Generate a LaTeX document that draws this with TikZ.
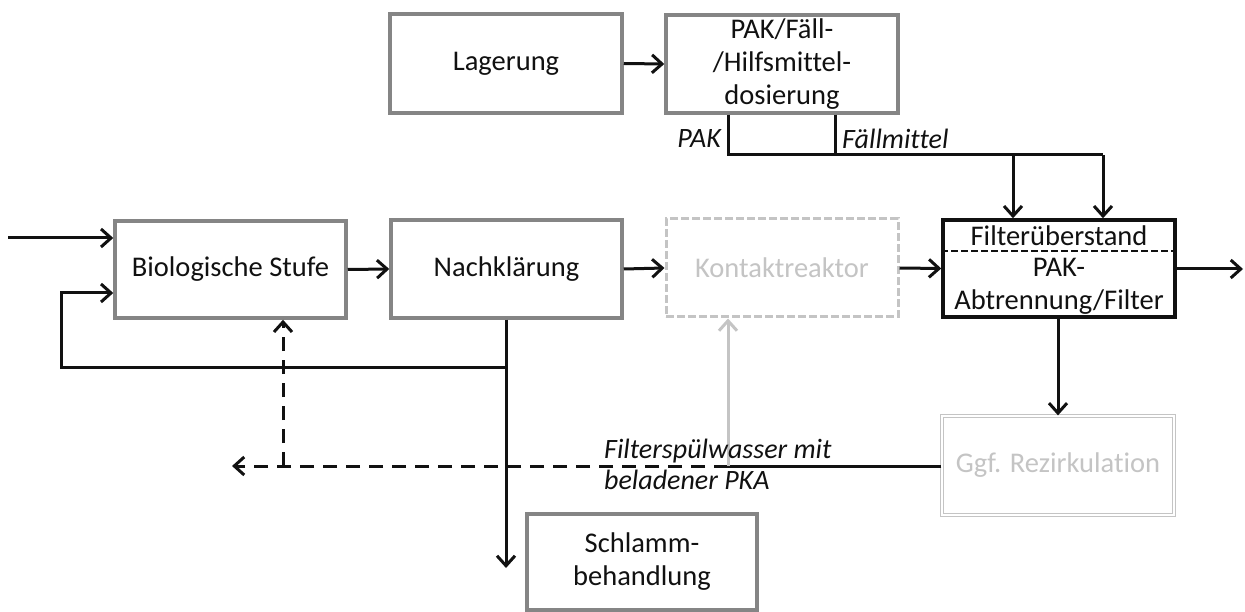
\documentclass[tikz,border=0pt]{standalone}
\usepackage{fontspec}
\setmainfont{Carlito}[Ligatures=NoCommon]
\usetikzlibrary{arrows.meta}
\definecolor{boxgray}{HTML}{858585}
\definecolor{lightg}{HTML}{C4C4C4}
\definecolor{ink}{HTML}{111111}
\tikzset{
  box/.style={draw=boxgray, line width=3.5pt, fill=white, align=center, text=ink, inner sep=0pt},
  arr/.style={line width=3pt, draw=ink, -{Straight Barb[length=10pt,width=18pt,line width=3pt]}},
  ln/.style={line width=3pt, draw=ink},
  dsh/.style={dash pattern=on 14pt off 9pt},
  lbl/.style={font=\fontsize{28}{31}\selectfont\itshape, text=ink, inner sep=0pt, align=left},
}
\begin{document}
\begin{tikzpicture}[x=1pt,y=-1pt,font=\fontsize{28.5}{33}\selectfont]
\useasboundingbox (0,0) rectangle (1245,612);
% boxes
\node[box, minimum width=232pt, minimum height=99pt] (lag) at (506,63.5) {Lagerung};
\node[box, minimum width=232pt, minimum height=98pt] (dos) at (782,64) {PAK/Fäll-\\/Hilfsmittel-\\dosierung};
\node[box, minimum width=231pt, minimum height=97pt] (bio) at (230.5,269.5) {Biologische Stufe};
\node[box, minimum width=231pt, minimum height=98pt] (nach) at (506.5,269) {Nachklärung};
\node[box, draw=lightg, dash pattern=on 8pt off 3pt, line width=3pt, text=lightg, minimum width=232pt, minimum height=98pt] (kon) at (782,268) {Kontaktreaktor};
\node[box, draw=ink, minimum width=232pt, minimum height=97pt] (fil) at (1059,268.5) {};
\node[box, draw=lightg, line width=1.3pt, double=white, double distance=1.6pt, text=lightg, minimum width=232pt, minimum height=99pt] (rez) at (1058,465.5) {Ggf. Rezirkulation};
\node[box, minimum width=230pt, minimum height=96pt] (schl) at (642,562) {Schlamm-\\behandlung};
% filter inner text
\node[text=ink, inner sep=0pt] (filt1) at (1059,236) {Filterüberstand};
\node[text=ink, inner sep=0pt, align=center] (filt2) at (1059,286) {PAK-\\Abtrennung/Filter};
\draw[line width=2.5pt, draw=ink, dash pattern=on 7pt off 3pt] (fil.west |- 0,251) -- (fil.east |- 0,251);
% coordinates
\coordinate (in) at (8,238);
\coordinate (out) at (1243,269);
\coordinate (j1) at (728,155);
\coordinate (j2) at (835,155);
\coordinate (j3) at (1013,155);
\coordinate (j4) at (1103,155);
\coordinate (r1) at (506,367);
\coordinate (r2) at (61,367);
\coordinate (r3) at (61,293);
\coordinate (sl) at (506,568);
\coordinate (f1) at (728,466);
\coordinate (f2) at (283,466);
\coordinate (fe) at (232,466);
% connectors
\draw[arr] (in) -- (in -| bio.west);
\draw[arr] (bio.east) -- (nach.west);
\draw[arr] (nach.east) -- (kon.west);
\draw[arr] (kon.east) -- (fil.west);
\draw[arr] (fil.east |- out) -- (out);
\draw[arr] (lag.east) -- (dos.west);
\draw[ln] (dos.south -| j1) -- (j1) -- (j4);
\draw[ln] (dos.south -| j2) -- (j2);
\draw[arr] (j3) -- (fil.north -| j3);
\draw[arr] (j4) -- (fil.north -| j4);
\draw[arr] (nach.south -| r1) -- (sl);
\draw[arr] (r1) -- (r2) -- (r3) -- (r3 -| bio.west);
\draw[arr] (fil.south -| rez.north) -- (rez.north);
\draw[ln] (rez.west |- f1) -- (f1);
\draw[arr, dsh] (f1) -- (fe);
\draw[arr, dsh] (f2) -- (bio.south -| f2);
\draw[line width=3pt, draw=lightg, -{Straight Barb[length=10pt,width=18pt,line width=3pt]}] (f1) -- (kon.south -| f1);
% labels
\node[lbl, anchor=east] (lpak) at (721,139) {PAK};
\node[lbl, anchor=west] (lfm) at (842,139) {Fällmittel};
\node[lbl, anchor=west] (lfs) at (604,464) {Filterspülwasser mit\\beladener PKA};
\end{tikzpicture}
\end{document}
